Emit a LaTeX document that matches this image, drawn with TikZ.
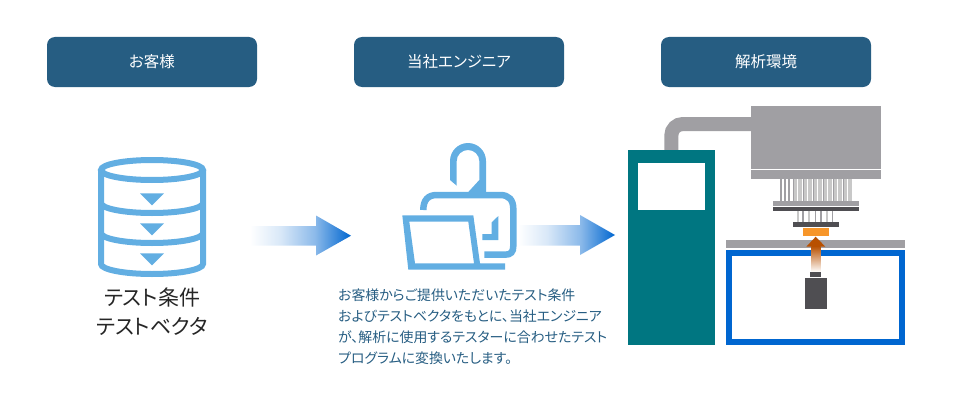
\documentclass[tikz,border=0pt]{standalone}
\usepackage{fontspec}
\setmainfont{Noto Sans CJK JP}[RawFeature=+palt]
\usepackage{tikz}
\usetikzlibrary{positioning, calc}
\definecolor{headblue}{HTML}{265D82}
\definecolor{iconblue}{HTML}{62AEE2}
\definecolor{flowblue}{HTML}{0066D0}
\definecolor{teal1}{HTML}{007681}
\definecolor{gray1}{HTML}{A09FA3}
\definecolor{gray2}{HTML}{C8C8C8}
\definecolor{dark1}{HTML}{4F4E52}
\definecolor{orange1}{HTML}{F7962A}
\definecolor{rust1}{HTML}{B85000}
\pgfdeclarehorizontalshading{fadearrow}{100bp}{color(0bp)=(white); color(25bp)=(white);
    color(40bp)=(flowblue!15); color(57bp)=(flowblue!45); color(75bp)=(flowblue); color(100bp)=(flowblue)}
\tikzset{
    headbox/.style={fill=headblue, rounded corners=8pt, minimum width=210pt, minimum height=50pt,
        text=white, font=\fontsize{15.5}{18}\selectfont, inner sep=0pt},
    iconline/.style={draw=iconblue, line width=6pt},
    iconfill/.style={fill=iconblue},
    flowarrow/.style={shading=fadearrow},
}
\begin{document}
\begin{tikzpicture}[x=1pt, y=-1pt]
    \useasboundingbox (0,0) rectangle (960,404);
    % header boxes
    \node[headbox] (customer) at (152,62) {お客様};
    \node[headbox] (engineer) at (459,62) {当社エンジニア};
    \node[headbox] (environ) at (766,62) {解析環境};

    % database icon
    \draw[iconline] (101,170) -- (101,264) arc[start angle=180, end angle=0, x radius=51, y radius=10] -- (203,170);
    \draw[iconline] (152,170) ellipse[x radius=51, y radius=10];
    \draw[iconline] (101,203) arc[start angle=180, end angle=0, x radius=51, y radius=10];
    \draw[iconline] (101,233) arc[start angle=180, end angle=0, x radius=51, y radius=10];
    \foreach \y in {193.3, 223.3, 253.3}
        \fill[iconfill] (140,\y) -- (164,\y) -- (152,\y+12) -- cycle;
    \node[font=\fontsize{21}{29}\selectfont, text=black!85, align=center] (condition) at (152,311.5) {テスト条件\\テストベクタ};

    % first arrow
    \shade[flowarrow] (250,226) -- (316,226) -- (316,215.5) -- (351,235.7) -- (316,255.5) -- (316,245.7) -- (250,245.7) -- cycle;

    % engineer icon
    \fill[iconfill] (450,180) -- (450,161) arc[start angle=180, end angle=360, radius=18] -- (486,192) -- (468.3,192)
        -- (479.3,180) -- (479.3,161) arc[start angle=0, end angle=-180, x radius=11.3, y radius=11] -- (456.7,185.7) -- cycle;
    \draw[draw=iconblue, line width=6.5pt] (423.3,210) .. controls (423.3,200) and (428,195) .. (437,195) -- (500,195)
        .. controls (509,195) and (513.3,200) .. (513.3,209) -- (513.3,246) .. controls (513.3,252) and (511,254.7) .. (505,254.7) -- (484.3,254.7);
    \fill[iconfill] (498.3,216) -- (498.3,240) -- (482.3,240) -- (482.3,234) -- (491.7,234) -- (491.7,222.3) -- cycle;
    \fill[iconfill, even odd rule] (402.3,215.3) -- (473.3,215.3) -- (480,263.3) -- (505,263.3) -- (505,269.7) -- (408.3,269.7) -- cycle
        (409.3,221.7) -- (468.3,221.7) -- (474,263.3) -- (415,263.3) -- cycle;

    % second arrow
    \shade[flowarrow] (518,225) -- (580,225) -- (580,215) -- (615,235) -- (580,255) -- (580,245.7) -- (518,245.7) -- cycle;

    % description
    \node[anchor=north west, inner sep=0pt, align=left, text=headblue, font=\fontsize{13.9}{21}\selectfont] (note) at (338,288.5)
        {お客様からご提供いただいたテスト条件\\およびテストベクタをもとに、当社エンジニア\\が、解析に使用するテスターに合わせたテスト\\プログラムに変換いたします。};

    % tester
    \draw[gray1, line width=14pt, rounded corners=11.5pt] (671.3,152) -- (671.3,124) -- (752,124);
    \fill[teal1] (628,150) rectangle (715,345);
    \fill[white] (637.7,163.3) rectangle (705.3,210);

    % test head
    \fill[gray1] (750.7,106) rectangle (881,168.7);
    \fill[gray1] (750.7,170.3) rectangle (881,179.3);
    \foreach \x in {780,784,787.7}
        \fill[gray1] (\x,179.3) rectangle (\x+2.4,201);
    \foreach \x in {792.7,797.7,...,850}
        \fill[gray2] (\x,179.3) rectangle (\x+3.9,201);
    \foreach \x in {792.7,802.7,...,850}
        \fill[gray1] (\x,179.3) rectangle (\x+1,201);
    \fill[gray1] (773.3,201) rectangle (858.7,206.3);
    \fill[dark1] (773.3,206.8) rectangle (858.7,211.3);
    \foreach \x in {798,809,826.7}
        \fill[gray2] (\x-1.2,211.3) rectangle (\x+1.2,222);
    \foreach \x in {802.9,815.3,821,832.7}
        \fill[gray1] (\x-0.6,211.3) rectangle (\x+0.6,222);
    \fill[dark1] (792.7,222) rectangle (838.7,226.7);
    \fill[orange1] (802.7,227.7) rectangle (829,235.7);

    % stage
    \fill[gray1] (726.3,240) rectangle (905.3,248);
    \draw[flowblue, line width=6pt] (729.3,253) rectangle (902.3,342.3);
    \shade[top color=rust1, bottom color=white] (811.3,246) rectangle (820.7,272);
    \fill[rust1] (815.7,236.7) -- (825.3,246.7) -- (806.3,246.7) -- cycle;
    \fill[dark1] (810.3,272.3) rectangle (821.3,276.7);
    \fill[dark1] (805.3,278) rectangle (826.7,309.3);
\end{tikzpicture}
\end{document}
